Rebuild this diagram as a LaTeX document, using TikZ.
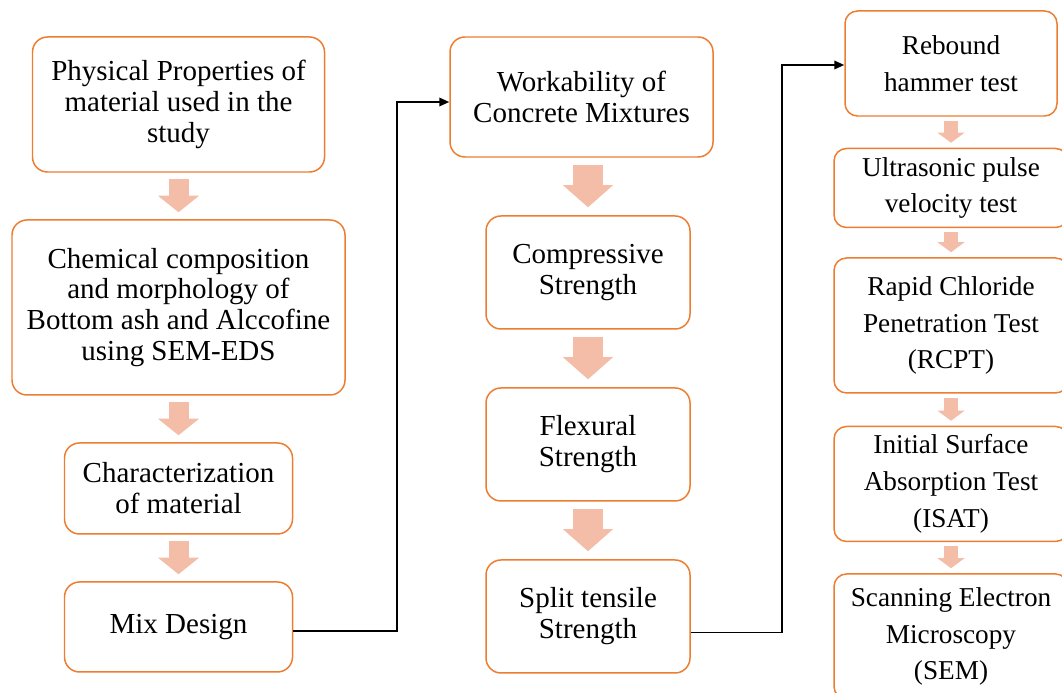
\documentclass[tikz,border=0pt]{standalone}
\usepackage{fontspec}
\setmainfont{Liberation Serif}
\usetikzlibrary{arrows.meta, positioning}
\definecolor{boxline}{HTML}{ED7D31}
\definecolor{blkfill}{HTML}{F3BDA8}
\tikzset{
  flow box/.style={
    rectangle, rounded corners=0.3cm, draw=boxline, line width=0.85pt,
    fill=white, align=center, inner sep=2pt,
    font=\fontsize{16.5}{17.6}\selectfont
  },
  test box/.style={
    flow box, rounded corners=0.25cm,
    font=\fontsize{15.5}{21}\selectfont
  },
  blk big/.style={
    -{Triangle[length=0.33cm, width=0.82cm, line width=0pt]},
    draw=blkfill, line width=0.4cm, shorten <=0.12cm, shorten >=0.14cm
  },
  blk mid/.style={
    -{Triangle[length=0.44cm, width=1.0cm, line width=0pt]},
    draw=blkfill, line width=0.6cm, shorten <=0.14cm, shorten >=0.16cm
  },
  blk small/.style={
    -{Triangle[length=0.2cm, width=0.54cm, line width=0pt]},
    draw=blkfill, line width=0.28cm, shorten <=0.08cm, shorten >=0.1cm
  },
  flow arrow/.style={
    -{Triangle[length=0.2cm, width=0.17cm]}, line width=1.1pt, draw=black
  }
}
\begin{document}
\begin{tikzpicture}
  \useasboundingbox (0,0) rectangle (21.24,-13.86);

  \node (phys) [flow box, minimum width=5.84cm, minimum height=2.7cm] at (3.57,-2.09) {Physical Properties of\\material used in the\\study};
  \node (chem) [flow box, minimum width=6.66cm, minimum height=3.5cm, below=0.93cm of phys] {Chemical composition\\and morphology of\\Bottom ash and Alccofine\\using SEM-EDS};
  \node (charac) [flow box, minimum width=4.56cm, minimum height=1.82cm, below=0.93cm of chem] {Characterization\\of material};
  \node (mix) [flow box, minimum width=4.56cm, minimum height=1.8cm, below=0.93cm of charac] {Mix Design};

  \node (work) [flow box, minimum width=5.26cm, minimum height=2.4cm] at (11.63,-1.94) {Workability of\\Concrete Mixtures};
  \node (comp) [flow box, minimum width=4.08cm, minimum height=2.26cm, below=1.15cm of work, xshift=0.13cm] {Compressive\\Strength};
  \node (flex) [flow box, minimum width=4.08cm, minimum height=2.26cm, below=1.15cm of comp] {Flexural\\Strength};
  \node (split) [flow box, minimum width=4.08cm, minimum height=2.26cm, below=1.15cm of flex] {Split tensile\\Strength};

  \node (rebound) [test box, minimum width=4.24cm, minimum height=2.1cm] at (19.02,-1.27) {Rebound\\hammer test};
  \node (upv) [test box, minimum width=4.68cm, minimum height=1.58cm, below=0.62cm of rebound] {Ultrasonic pulse\\velocity test};
  \node (rcpt) [test box, minimum width=4.68cm, minimum height=2.7cm, below=0.58cm of upv] {Rapid Chloride\\Penetration Test\\(RCPT)};
  \node (isat) [test box, minimum width=4.68cm, minimum height=2.3cm, below=0.64cm of rcpt] {Initial Surface\\Absorption Test\\(ISAT)};
  \node (sem) [test box, minimum width=4.68cm, minimum height=2.5cm, below=0.62cm of isat] {Scanning Electron\\Microscopy\\(SEM)};

  \draw [blk big] (phys) -- (chem);
  \draw [blk big] (chem) -- (charac);
  \draw [blk big] (charac) -- (mix);

  \draw [blk mid] (work.south -| comp) -- (comp);
  \draw [blk mid] (comp) -- (flex);
  \draw [blk mid] (flex) -- (split);

  \draw [blk small] (rebound) -- (upv);
  \draw [blk small] (upv) -- (rcpt);
  \draw [blk small] (rcpt) -- (isat);
  \draw [blk small] (isat) -- (sem);

  \draw [flow arrow] ([yshift=-0.08cm]mix.east) -- ++(2.08,0) |- ([yshift=-0.1cm]work.west);
  \draw [flow arrow] ([yshift=-0.32cm]split.east) -- ++(1.82,0) |- ([yshift=-0.03cm]rebound.west);
\end{tikzpicture}
\end{document}
